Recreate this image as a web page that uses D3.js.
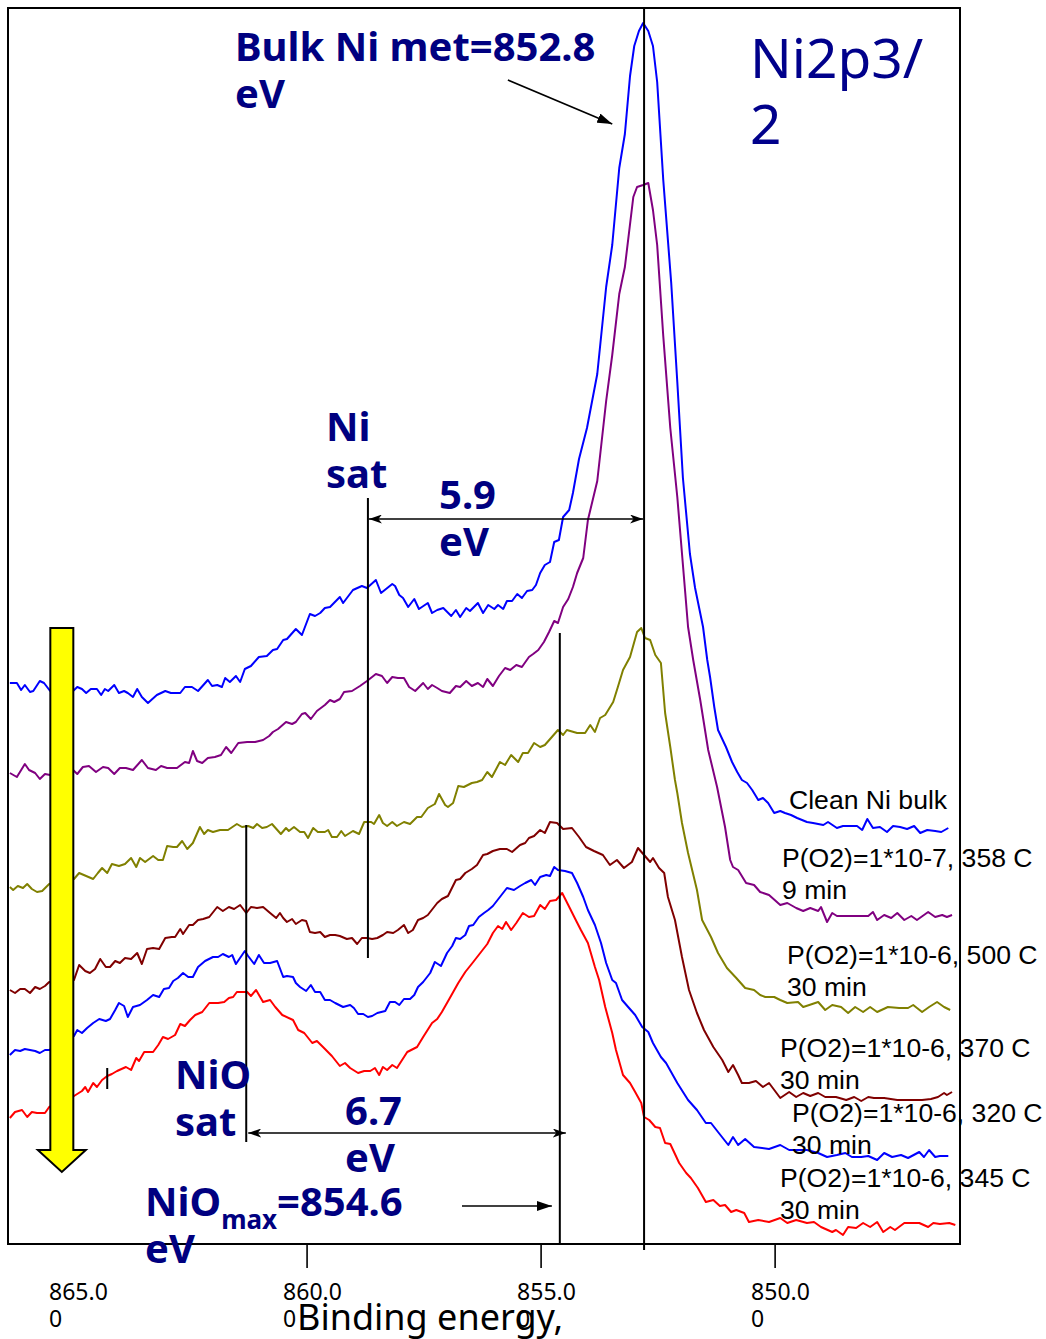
<!DOCTYPE html>
<html>
<head>
<meta charset="utf-8">
<script src="https://cdn.jsdelivr.net/npm/d3@7"></script>
<style>
  body { margin: 0; background: #fff; }
  svg { display: block; }
</style>
</head>
<body>
<svg id="chart" width="1046" height="1339"></svg>
<script>
// Ni 2p3/2 XPS spectra, [binding energy (eV), intensity (a.u., stacked)]
const cleanNi = [[866.35,561],[866.20,561],[866.11,554],[866.03,559],[865.92,552],[865.85,553],[865.71,563],[865.62,561],[865.49,553],[865.24,554],[865.00,553],[864.91,557],[864.81,555],[864.72,551],[864.62,555],[864.49,555],[864.40,549],[864.32,555],[864.25,553],[864.12,559],[864.02,551],[863.91,553],[863.83,551],[863.72,547],[863.63,555],[863.53,547],[863.40,541],[863.21,549],[863.03,553],[862.91,551],[862.71,551],[862.61,557],[862.46,557],[862.33,553],[862.12,564],[862.03,558],[861.92,559],[861.82,557],[861.75,566],[861.65,562],[861.52,568],[861.43,562],[861.33,575],[861.20,578],[861.03,587],[860.86,588],[860.73,594],[860.64,595],[860.51,604],[860.43,605],[860.24,615],[860.11,609],[859.94,630],[859.83,628],[859.72,631],[859.62,636],[859.51,637],[859.30,647],[859.23,641],[859.02,654],[858.83,658],[858.72,656],[858.53,664],[858.42,651],[858.18,660],[858.12,658],[858.03,649],[857.95,646],[857.84,637],[857.71,645],[857.61,635],[857.42,641],[857.33,631],[857.22,634],[857.09,636],[856.92,628],[856.82,634],[856.73,627],[856.60,636],[856.52,633],[856.35,641],[856.24,631],[856.13,639],[856.00,635],[855.92,639],[855.81,635],[855.73,643],[855.62,643],[855.51,650],[855.41,646],[855.30,653],[855.19,654],[855.11,659],[855.02,671],[854.92,679],[854.81,682],[854.72,702],[854.62,704],[854.53,727],[854.40,734],[854.32,751],[854.19,785],[854.02,816],[853.80,870],[853.61,957],[853.48,999],[853.33,1076],[853.21,1110],[853.10,1168],[853.01,1198],[852.91,1213],[852.82,1221],[852.71,1213],[852.61,1198],[852.52,1162],[852.39,1064],[852.22,961],[852.09,862],[851.97,766],[851.82,690],[851.71,656],[851.54,617],[851.45,584],[851.39,567],[851.30,537],[851.22,514],[851.05,497],[850.92,482],[850.81,472],[850.71,464],[850.60,461],[850.49,454],[850.36,444],[850.26,446],[850.15,441],[850.02,431],[849.89,433],[849.79,431],[849.66,429],[849.53,426],[849.32,422],[849.19,421],[848.97,419],[848.87,422],[848.68,416],[848.55,418],[848.25,418],[848.14,414],[848.03,425],[847.91,416],[847.76,417],[847.61,412],[847.48,418],[847.33,417],[847.18,415],[847.03,418],[846.90,411],[846.75,414],[846.58,413],[846.45,412],[846.30,416]];

const ox7_358C = [[866.35,471],[866.20,467],[866.03,480],[865.94,474],[865.81,471],[865.71,465],[865.60,470],[865.49,469],[865.24,472],[865.00,474],[864.91,470],[864.79,477],[864.66,478],[864.51,472],[864.36,477],[864.25,476],[864.12,470],[864.00,476],[863.87,476],[863.72,474],[863.53,484],[863.40,476],[863.23,474],[863.12,478],[862.99,476],[862.78,476],[862.61,482],[862.52,481],[862.44,493],[862.35,483],[862.24,481],[862.12,486],[861.97,487],[861.84,489],[861.73,497],[861.62,491],[861.47,501],[861.28,502],[861.11,502],[860.94,504],[860.81,508],[860.73,512],[860.62,515],[860.45,522],[860.32,520],[860.24,522],[860.11,530],[860.04,531],[859.92,525],[859.79,533],[859.62,539],[859.51,544],[859.42,542],[859.30,545],[859.21,552],[859.04,553],[858.87,558],[858.72,563],[858.53,570],[858.40,568],[858.29,561],[858.18,567],[858.06,566],[857.93,566],[857.82,557],[857.69,553],[857.52,561],[857.42,555],[857.33,559],[857.22,556],[857.12,553],[856.95,551],[856.82,558],[856.73,557],[856.60,563],[856.48,558],[856.35,561],[856.24,557],[856.15,565],[856.03,558],[855.90,568],[855.77,576],[855.66,574],[855.53,579],[855.41,577],[855.26,587],[855.17,590],[855.06,594],[854.94,602],[854.83,612],[854.72,623],[854.64,621],[854.53,637],[854.42,645],[854.32,657],[854.23,671],[854.10,686],[854.00,724],[853.80,763],[853.61,843],[853.48,889],[853.33,950],[853.21,977],[853.03,1047],[852.95,1057],[852.82,1059],[852.71,1061],[852.61,1034],[852.52,999],[852.39,908],[852.24,816],[852.09,747],[851.92,651],[851.86,617],[851.75,584],[851.60,544],[851.43,494],[851.24,457],[851.07,417],[850.96,384],[850.90,377],[850.79,374],[850.62,361],[850.45,359],[850.32,352],[850.13,349],[849.89,339],[849.74,341],[849.55,336],[849.40,333],[849.25,336],[849.08,333],[849.02,337],[848.89,322],[848.78,331],[848.68,328],[848.44,328],[848.01,328],[847.91,332],[847.82,324],[847.67,329],[847.52,326],[847.39,331],[847.24,324],[847.09,328],[846.97,324],[846.73,332],[846.58,327],[846.43,329],[846.33,327],[846.22,329]];

const ox6_500C = [[866.35,357],[866.28,354],[866.18,358],[866.07,356],[865.98,360],[865.88,355],[865.77,352],[865.66,353],[865.51,360],[865.24,362],[864.98,365],[864.87,371],[864.72,368],[864.57,365],[864.47,371],[864.38,376],[864.27,371],[864.17,380],[864.02,378],[863.89,380],[863.76,386],[863.65,377],[863.57,386],[863.46,382],[863.29,388],[863.18,384],[863.08,384],[862.99,398],[862.86,397],[862.78,397],[862.67,403],[862.56,395],[862.44,401],[862.29,417],[862.20,410],[862.12,414],[862.01,412],[861.86,414],[861.69,414],[861.50,420],[861.39,417],[861.26,418],[861.15,416],[861.07,420],[860.96,416],[860.86,417],[860.75,420],[860.56,410],[860.45,416],[860.39,413],[860.28,417],[860.15,412],[860.06,412],[859.98,406],[859.87,416],[859.77,412],[859.62,412],[859.55,414],[859.47,407],[859.36,407],[859.27,413],[859.19,408],[859.02,413],[858.89,410],[858.78,422],[858.63,422],[858.57,420],[858.46,429],[858.38,421],[858.29,418],[858.18,422],[858.08,418],[857.93,422],[857.80,420],[857.65,427],[857.56,427],[857.42,436],[857.27,440],[857.18,450],[857.05,439],[856.99,437],[856.88,441],[856.77,458],[856.65,457],[856.48,461],[856.37,462],[856.26,464],[856.15,472],[856.05,467],[855.88,482],[855.77,479],[855.64,489],[855.49,482],[855.39,491],[855.28,491],[855.15,501],[855.02,497],[854.92,499],[854.77,507],[854.64,514],[854.53,509],[854.45,514],[854.23,511],[854.06,511],[853.95,519],[853.85,512],[853.74,526],[853.63,529],[853.46,542],[853.36,557],[853.25,574],[853.10,587],[852.95,612],[852.86,616],[852.78,606],[852.67,604],[852.56,589],[852.44,581],[852.35,531],[852.24,497],[852.14,464],[852.09,451],[851.99,421],[851.86,391],[851.67,354],[851.56,324],[851.37,307],[851.22,291],[851.03,276],[850.83,266],[850.64,256],[850.45,254],[850.32,249],[850.21,247],[850.02,247],[849.89,244],[849.74,241],[849.51,242],[849.40,237],[849.27,239],[849.08,242],[848.93,234],[848.78,239],[848.59,237],[848.44,231],[848.29,237],[848.12,232],[847.97,237],[847.82,232],[847.59,237],[847.35,236],[847.16,236],[847.05,239],[846.86,232],[846.71,237],[846.54,242],[846.39,237],[846.26,234]];

const ox6_370C = [[866.35,254],[866.24,251],[866.13,255],[866.03,255],[865.92,251],[865.81,257],[865.71,255],[865.60,258],[865.51,262],[865.24,263],[864.98,264],[864.87,279],[864.74,273],[864.64,271],[864.53,275],[864.42,285],[864.30,277],[864.21,277],[864.10,283],[864.00,281],[863.89,286],[863.76,285],[863.63,291],[863.53,280],[863.42,295],[863.29,296],[863.16,295],[863.03,306],[862.89,307],[862.82,307],[862.71,315],[862.65,310],[862.52,319],[862.44,319],[862.33,324],[862.22,325],[862.09,327],[861.92,337],[861.80,333],[861.67,337],[861.56,335],[861.43,339],[861.30,331],[861.20,337],[861.07,336],[860.94,337],[860.79,331],[860.66,326],[860.58,331],[860.51,326],[860.43,322],[860.32,325],[860.24,320],[860.11,324],[860.02,323],[859.94,312],[859.83,311],[859.72,312],[859.62,307],[859.51,309],[859.40,309],[859.30,308],[859.15,305],[859.04,306],[858.93,300],[858.83,306],[858.72,306],[858.61,305],[858.50,306],[858.38,309],[858.29,312],[858.16,311],[858.06,314],[857.93,319],[857.84,311],[857.74,314],[857.63,324],[857.52,326],[857.42,329],[857.22,341],[857.12,345],[856.99,348],[856.82,364],[856.73,365],[856.62,371],[856.48,375],[856.37,379],[856.24,389],[856.15,390],[856.03,393],[855.88,395],[855.73,395],[855.62,392],[855.45,399],[855.34,401],[855.26,406],[855.15,408],[855.02,414],[854.92,411],[854.81,422],[854.66,421],[854.53,415],[854.34,416],[854.19,407],[854.04,397],[853.87,393],[853.68,389],[853.53,379],[853.38,384],[853.23,376],[853.06,382],[852.93,396],[852.80,389],[852.67,382],[852.61,386],[852.48,376],[852.37,371],[852.29,347],[852.14,324],[851.99,287],[851.84,254],[851.67,231],[851.52,214],[851.32,197],[851.13,184],[851.00,172],[850.90,179],[850.79,169],[850.71,161],[850.56,161],[850.41,163],[850.26,157],[850.13,161],[849.89,146],[849.70,152],[849.55,147],[849.40,151],[849.25,148],[849.08,151],[848.93,147],[848.70,147],[848.48,144],[848.31,147],[848.16,143],[848.01,147],[847.89,146],[847.67,146],[847.39,144],[847.05,144],[846.86,144],[846.67,145],[846.52,147],[846.39,151],[846.33,149],[846.22,152]];

const ox6_320C = [[866.35,189],[866.24,194],[866.13,193],[866.03,195],[865.92,194],[865.81,193],[865.71,191],[865.60,194],[865.51,194],[865.24,199],[864.98,208],[864.91,214],[864.81,211],[864.70,216],[864.57,221],[864.44,225],[864.30,223],[864.21,225],[864.10,234],[864.02,241],[863.91,238],[863.83,227],[863.72,237],[863.57,239],[863.42,244],[863.29,249],[863.16,247],[863.06,255],[862.95,256],[862.86,263],[862.76,266],[862.65,271],[862.54,267],[862.44,267],[862.33,277],[862.18,283],[862.01,287],[861.90,287],[861.80,290],[861.67,287],[861.60,289],[861.52,280],[861.33,293],[861.26,288],[861.13,280],[861.03,289],[860.92,281],[860.79,281],[860.64,283],[860.51,267],[860.43,268],[860.30,267],[860.24,261],[860.15,257],[860.02,253],[859.92,259],[859.83,252],[859.72,252],[859.62,244],[859.51,244],[859.40,241],[859.23,237],[859.08,239],[859.00,236],[858.91,230],[858.80,230],[858.70,227],[858.61,228],[858.50,231],[858.33,233],[858.23,242],[858.12,242],[858.03,239],[857.93,245],[857.80,245],[857.71,249],[857.63,257],[857.52,262],[857.37,271],[857.27,282],[857.14,278],[857.01,291],[856.90,298],[856.82,306],[856.73,305],[856.62,309],[856.54,318],[856.45,319],[856.33,327],[856.22,331],[856.13,334],[856.03,338],[855.88,347],[855.73,356],[855.58,354],[855.45,358],[855.34,361],[855.21,364],[855.13,359],[855.02,367],[854.89,369],[854.81,368],[854.72,377],[854.64,374],[854.49,373],[854.34,371],[854.23,361],[854.10,347],[854.00,334],[853.85,319],[853.72,301],[853.61,281],[853.48,264],[853.40,261],[853.27,244],[853.14,237],[852.99,229],[852.84,217],[852.71,212],[852.61,201],[852.44,187],[852.33,181],[852.09,161],[851.86,144],[851.67,134],[851.48,121],[851.37,121],[851.22,112],[851.00,99],[850.90,107],[850.79,99],[850.64,105],[850.45,97],[850.13,95],[849.89,99],[849.70,94],[849.55,94],[849.32,94],[849.08,91],[848.89,87],[848.68,89],[848.50,91],[848.36,87],[848.16,87],[848.01,88],[847.82,84],[847.67,91],[847.50,87],[847.31,89],[847.16,86],[846.92,92],[846.82,87],[846.71,94],[846.58,87],[846.48,88],[846.30,88]];

const ox6_345C = [[866.35,126],[866.24,132],[866.09,134],[865.98,127],[865.88,132],[865.77,131],[865.60,131],[865.51,137],[865.24,143],[864.98,148],[864.81,153],[864.74,157],[864.68,152],[864.57,161],[864.49,157],[864.38,164],[864.27,168],[864.17,170],[864.06,173],[863.87,177],[863.76,174],[863.65,186],[863.59,183],[863.48,192],[863.29,192],[863.18,199],[863.08,207],[862.97,205],[862.82,209],[862.71,220],[862.61,218],[862.50,224],[862.39,229],[862.24,232],[862.09,241],[861.90,241],[861.77,242],[861.67,246],[861.58,247],[861.50,252],[861.28,252],[861.20,248],[861.09,254],[860.94,242],[860.79,244],[860.68,237],[860.53,229],[860.30,224],[860.19,214],[860.06,211],[859.89,201],[859.79,203],[859.66,197],[859.47,188],[859.30,178],[859.19,181],[859.08,176],[858.91,171],[858.78,173],[858.65,173],[858.55,176],[858.46,169],[858.38,177],[858.29,174],[858.18,179],[858.08,176],[857.86,192],[857.65,197],[857.52,207],[857.33,221],[857.22,225],[857.12,232],[856.95,246],[856.77,261],[856.62,272],[856.45,282],[856.30,291],[856.15,300],[856.03,311],[855.92,318],[855.83,315],[855.75,322],[855.64,314],[855.53,321],[855.39,331],[855.26,327],[855.15,328],[855.02,339],[854.92,335],[854.81,343],[854.68,344],[854.55,351],[854.42,339],[854.27,325],[854.15,314],[854.00,301],[853.85,277],[853.76,264],[853.63,237],[853.48,211],[853.40,194],[853.25,169],[853.10,161],[852.99,152],[852.86,141],[852.80,127],[852.69,124],[852.56,117],[852.46,116],[852.35,101],[852.24,100],[852.05,81],[851.90,71],[851.80,66],[851.65,56],[851.48,42],[851.32,44],[851.18,38],[851.07,39],[850.94,32],[850.83,34],[850.66,31],[850.56,22],[850.36,24],[850.13,22],[849.89,26],[849.74,21],[849.55,24],[849.32,21],[849.17,22],[849.02,17],[848.78,12],[848.70,14],[848.55,9],[848.44,17],[848.27,16],[848.12,21],[847.97,17],[847.82,22],[847.69,12],[847.54,17],[847.44,14],[847.24,21],[847.09,21],[846.92,21],[846.73,17],[846.62,21],[846.48,20],[846.28,21],[846.15,19]];

const seriesData = [cleanNi, ox7_358C, ox6_500C, ox6_370C, ox6_320C, ox6_345C];
const seriesColors = ["#0000ff", "#800080", "#808000", "#800000", "#0000ff", "#ff0000"];
const seriesLabels = [
  ["Clean Ni bulk"],
  ["P(O2)=1*10-7, 358 C", "9 min"],
  ["P(O2)=1*10-6, 500 C", "30 min"],
  ["P(O2)=1*10-6, 370 C", "30 min"],
  ["P(O2)=1*10-6, 320 C", "30 min"],
  ["P(O2)=1*10-6, 345 C", "30 min"]
];

// x axis
const tickValues = [865, 860, 855, 850];
const tickLabels = [["865.0", "0"], ["860.0", "0"], ["855.0", "0"], ["850.0", "0"]];
const tickMarkValues = [860, 855, 850];
const xTitle = "Binding energy,";

// peak positions and satellite shifts (eV)
const bulkNiBE = 852.8;
const nioMaxBE = 854.6;
const niSatShift = 5.9;
const nioSatShift = 6.7;

// ---------------------------------------------------------------
const svg = d3.select("#chart");
const plot = { left: 8, top: 8, right: 960, bottom: 1244 };

const x = d3.scaleLinear().domain([866.39, 846.05]).range([plot.left, plot.right]);
const y = d3.scaleLinear().domain([0, 1236]).range([plot.bottom, plot.top]);

const NAVY = "#000080";
const sansFont = "'Noto Sans', 'Open Sans', sans-serif";
const arialFont = "'Liberation Sans', Arial, sans-serif";

const defs = svg.append("defs");
function addMarker(id, path, w, h) {
  defs.append("marker")
    .attr("id", id)
    .attr("viewBox", `0 0 ${w} ${h}`)
    .attr("refX", w).attr("refY", h / 2)
    .attr("markerWidth", w).attr("markerHeight", h)
    .attr("markerUnits", "userSpaceOnUse")
    .attr("orient", "auto-start-reverse")
    .append("path").attr("d", path).attr("fill", "#000");
}
addMarker("head", "M0,0 L15,5 L0,10 Z", 15, 10);
addMarker("stealth", "M0,0 L13,4.5 L0,9 L3.5,4.5 Z", 13, 9);

// spectra
const line = d3.line().x(d => x(d[0])).y(d => y(d[1]));
svg.append("g").selectAll("path")
  .data(seriesData)
  .join("path")
  .attr("d", line)
  .attr("fill", "none")
  .attr("stroke", (d, i) => seriesColors[i])
  .attr("stroke-width", 2)
  .attr("stroke-linejoin", "round");

// reference lines
const guides = svg.append("g").attr("stroke", "#000").attr("stroke-width", 2);
guides.append("line")
  .attr("x1", x(bulkNiBE)).attr("x2", x(bulkNiBE))
  .attr("y1", y(1236)).attr("y2", y(-6));
guides.append("line")
  .attr("x1", x(nioMaxBE)).attr("x2", x(nioMaxBE))
  .attr("y1", y(611)).attr("y2", y(0));
guides.append("line")
  .attr("x1", x(bulkNiBE + niSatShift)).attr("x2", x(bulkNiBE + niSatShift))
  .attr("y1", y(746)).attr("y2", y(286));
guides.append("line")
  .attr("x1", x(nioMaxBE + nioSatShift)).attr("x2", x(nioMaxBE + nioSatShift))
  .attr("y1", y(419)).attr("y2", y(102));
guides.append("line")
  .attr("x1", x(864.27)).attr("x2", x(864.27))
  .attr("y1", y(176)).attr("y2", y(155));

// dimension arrows
const dims = svg.append("g").attr("stroke", "#000").attr("stroke-width", 1.6);
dims.append("line")
  .attr("x1", x(bulkNiBE + niSatShift) + 1).attr("x2", x(bulkNiBE) - 1)
  .attr("y1", y(725)).attr("y2", y(725))
  .attr("marker-start", "url(#stealth)").attr("marker-end", "url(#stealth)");
dims.append("line")
  .attr("x1", x(nioMaxBE + nioSatShift) + 2).attr("x2", x(nioMaxBE) + 6)
  .attr("y1", y(111)).attr("y2", y(111))
  .attr("marker-start", "url(#stealth)").attr("marker-end", "url(#stealth)");

// pointer arrows
dims.append("line")
  .attr("x1", x(855.71)).attr("y1", y(1164))
  .attr("x2", x(853.48)).attr("y2", y(1120))
  .attr("marker-end", "url(#head)");
dims.append("line")
  .attr("x1", x(856.69)).attr("y1", y(38))
  .attr("x2", x(854.77)).attr("y2", y(38))
  .attr("marker-end", "url(#head)");

// yellow trend arrow (series order)
const ax = x(865.24), aTop = y(616), aNeck = y(94), aTip = y(72);
svg.append("path")
  .attr("d", `M${ax - 11.5},${aTop} L${ax + 11.5},${aTop} L${ax + 11.5},${aNeck}
              L${ax + 24},${aNeck} L${ax},${aTip} L${ax - 24},${aNeck}
              L${ax - 11.5},${aNeck} Z`)
  .attr("fill", "#ffff00")
  .attr("stroke", "#000")
  .attr("stroke-width", 2)
  .attr("stroke-linejoin", "miter");

// frame
svg.append("rect")
  .attr("x", plot.left).attr("y", plot.top)
  .attr("width", plot.right - plot.left).attr("height", plot.bottom - plot.top)
  .attr("fill", "none").attr("stroke", "#000").attr("stroke-width", 2);

// ticks
svg.append("g").selectAll("line")
  .data(tickMarkValues)
  .join("line")
  .attr("x1", d => x(d)).attr("x2", d => x(d))
  .attr("y1", plot.bottom).attr("y2", plot.bottom + 24)
  .attr("stroke", "#000").attr("stroke-width", 1.6);

const tickText = svg.append("g")
  .attr("font-family", sansFont).attr("font-size", 23).attr("fill", "#000");
tickValues.forEach((v, i) => {
  tickLabels[i].forEach((s, k) => {
    tickText.append("text")
      .attr("x", x(v) - 24).attr("y", 1300 + k * 27)
      .text(s);
  });
});

svg.append("text")
  .attr("x", 297).attr("y", 1330)
  .attr("font-family", sansFont).attr("font-size", 36)
  .attr("fill", "#000")
  .text(xTitle);

// series labels
const labelPos = [[789, 809], [782, 867], [787, 964], [780, 1057], [792, 1122], [780, 1187]];
const labels = svg.append("g")
  .attr("font-family", arialFont).attr("font-size", 26.6).attr("fill", "#000");
seriesLabels.forEach((lines, i) => {
  lines.forEach((s, k) => {
    labels.append("text")
      .attr("x", labelPos[i][0]).attr("y", labelPos[i][1] + k * 32)
      .text(s);
  });
});

// title
const title = svg.append("g")
  .attr("font-family", sansFont).attr("font-size", 55).attr("fill", "#00008b");
title.append("text").attr("x", 750).attr("y", 78).text("Ni2p3/");
title.append("text").attr("x", 750).attr("y", 144).text("2");

// bold annotations
const ann = svg.append("g")
  .attr("font-family", sansFont).attr("font-weight", "bold")
  .attr("font-size", 40).attr("fill", NAVY);
function twoLines(x0, y0, a, b) {
  ann.append("text").attr("x", x0).attr("y", y0).text(a);
  ann.append("text").attr("x", x0).attr("y", y0 + 47).text(b);
}
twoLines(235, 61, `Bulk Ni met=${bulkNiBE.toFixed(1)}`, "eV");
twoLines(326, 441, "Ni", "sat");
twoLines(439, 509, niSatShift.toFixed(1), "eV");
twoLines(175, 1089, "NiO", "sat");
twoLines(345, 1125, nioSatShift.toFixed(1), "eV");

const nioMax = ann.append("text").attr("x", 145).attr("y", 1216);
nioMax.append("tspan").text("NiO");
nioMax.append("tspan").attr("font-size", 26).attr("dy", 13).text("max");
nioMax.append("tspan").attr("dy", -13).text(`=${nioMaxBE.toFixed(1)}`);
ann.append("text").attr("x", 145).attr("y", 1263).text("eV");
</script>
</body>
</html>
